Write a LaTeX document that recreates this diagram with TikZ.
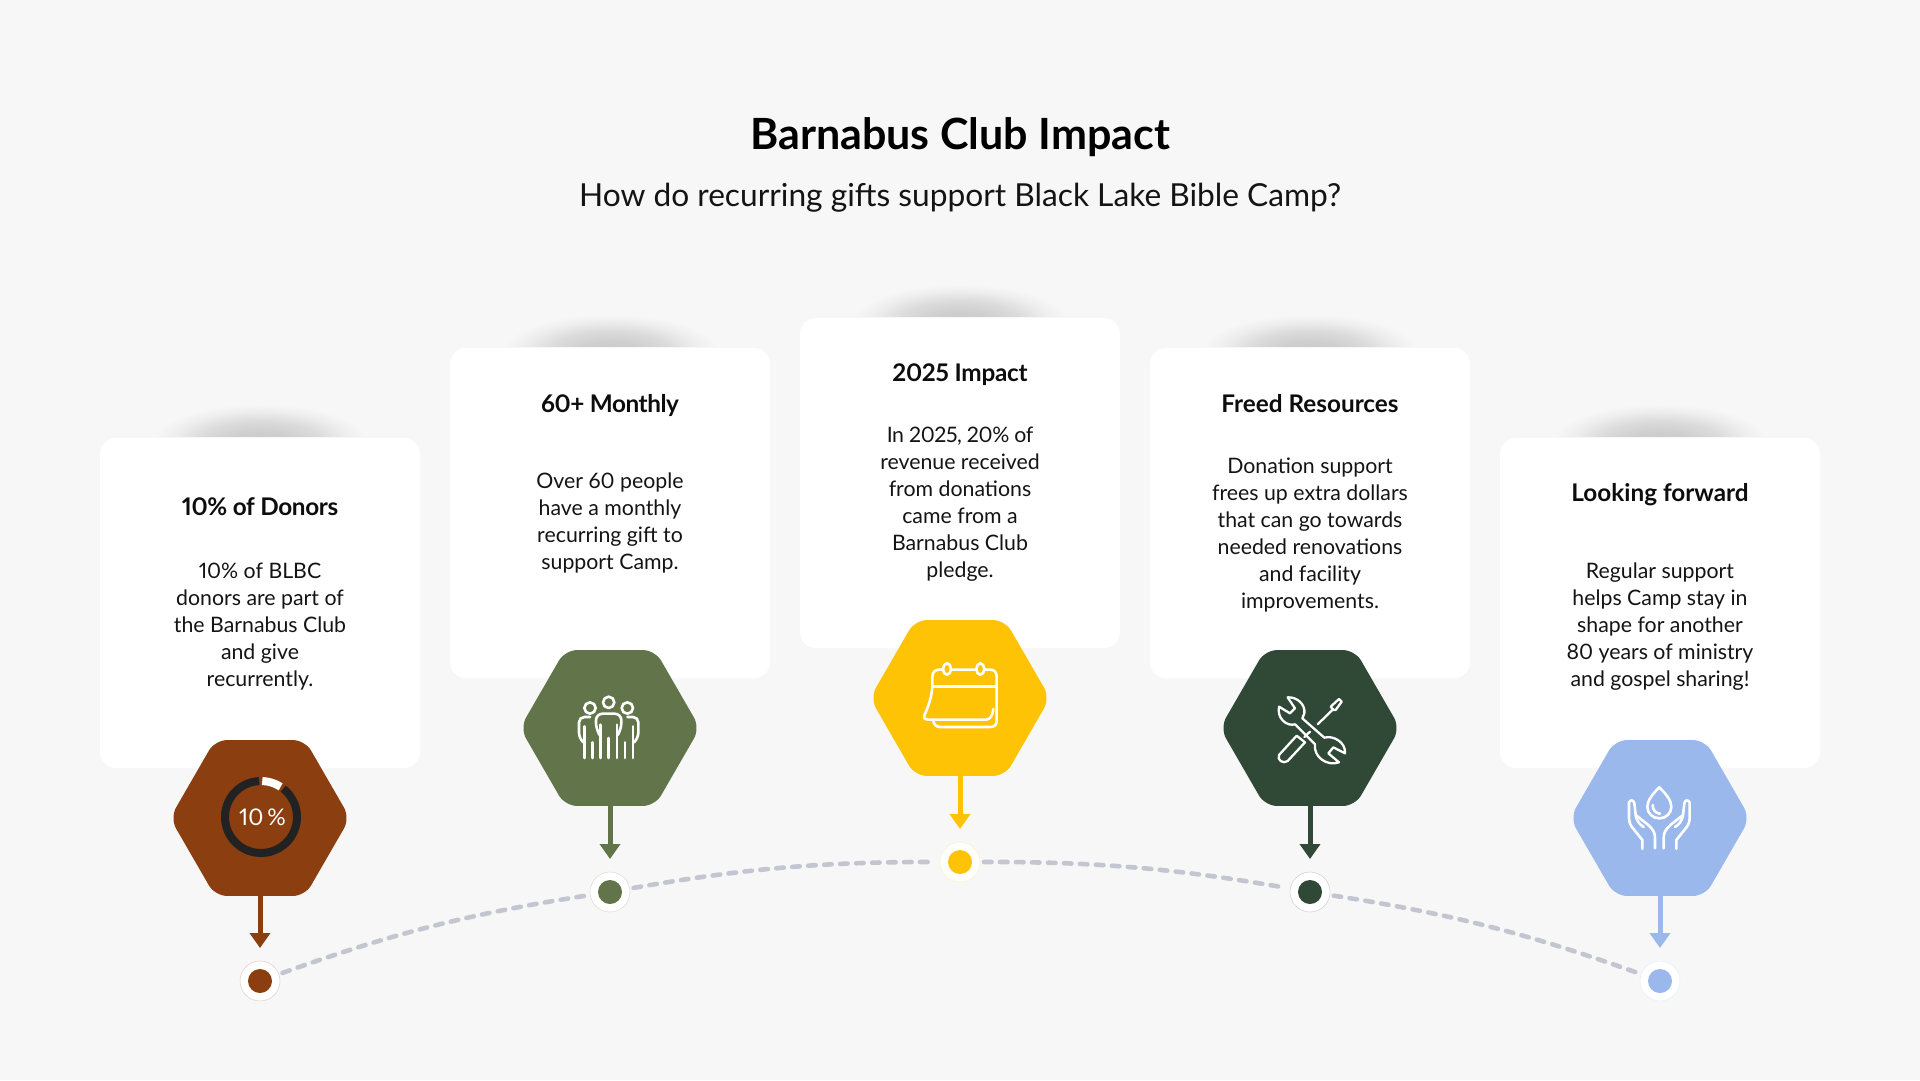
\documentclass[tikz,border=0pt]{standalone}
\usepackage{fontspec}
\setmainfont{Lato}[Numbers=Proportional]
\usetikzlibrary{arrows.meta,shapes.geometric}
\definecolor{pagebg}{HTML}{F7F7F7}
\definecolor{cbrown}{HTML}{8B3E0F}
\definecolor{cgreen}{HTML}{62754A}
\definecolor{cyellow}{HTML}{FEC304}
\definecolor{cdark}{HTML}{304836}
\definecolor{cblue}{HTML}{9AB8EC}
\definecolor{dashgray}{HTML}{C3C5D0}
\definecolor{ringdark}{HTML}{222222}
\pgfdeclareradialshading{cardglow}{\pgfpoint{0bp}{0bp}}{
 rgb(0bp)=(0.79,0.79,0.79);
 rgb(7bp)=(0.81,0.81,0.81);
 rgb(14bp)=(0.86,0.86,0.86);
 rgb(20bp)=(0.93,0.93,0.93);
 rgb(25bp)=(0.969,0.969,0.969);
 rgb(50bp)=(0.969,0.969,0.969)}
\tikzset{
 cardbox/.style={rectangle,fill=white,rounded corners=16pt,minimum width=320pt,minimum height=330pt,inner sep=0pt},
 hexbox/.style={regular polygon,regular polygon sides=6,shape border rotate=0,minimum size=180pt,inner sep=0pt,rounded corners=12pt,fill=#1},
 ringdot/.style={circle,fill=white,draw=#1!25,line width=0.5pt,minimum size=40pt,inner sep=0pt},
 coredot/.style={circle,fill=#1,minimum size=24pt,inner sep=0pt},
 droparrow/.style={draw=#1,fill=#1,line width=5pt,shorten >=33pt,-{Triangle[width=20pt,length=15pt]}},
 arcdash/.style={draw=dashgray,line width=4.6pt,line cap=round,dash pattern=on 7.5pt off 8.5pt,shorten >=24pt,shorten <=24pt},
 headtext/.style={font=\fontsize{24.3}{30}\selectfont\bfseries,text=black!95,align=center,inner sep=0pt,anchor=base},
 bodytext/.style={font=\fontsize{21.3}{27}\selectfont,text=black!92,align=center,inner sep=0pt},
 iconline/.style={draw=white,line width=2.6pt,line cap=round,line join=round},
 toolline/.style={draw=white,line width=2.3pt,line cap=round,line join=round},
 iconframe/.style={x=0.33333pt,y=-0.33333pt},
}
\begin{document}
\begin{tikzpicture}[x=1pt,y=-1pt]
\path[use as bounding box,fill=pagebg] (0,0) rectangle (1920,1080);
% glows
\foreach \cx/\ty in {260/438,610/348,960/318,1310/348,1660/438}{
  \begin{scope}
  \clip (\cx-150,\ty-60) rectangle (\cx+150,\ty-1.5);
  \shade[shading=cardglow] (\cx,\ty+4) ellipse [x radius=108,y radius=38];
  \end{scope}
}
% cards
\node[cardbox] (c1) at (260,603) {};
\node[cardbox] (c2) at (610,513) {};
\node[cardbox] (c3) at (960,483) {};
\node[cardbox] (c4) at (1310,513) {};
\node[cardbox] (c5) at (1660,603) {};
% title
\node[font=\fontsize{43}{50}\selectfont\bfseries,text=black,inner sep=0pt] (title) at (960,137) {Barnabus Club Impact};
\node[font=\fontsize{31.7}{38}\selectfont,text=black!92,inner sep=0pt] (subtitle) at (960,198) {How do recurring gifts support Black Lake Bible Camp?};
% headings
\node[headtext] (t1) at (260,515) {\addfontfeatures{LetterSpace=-1.5}10\% of Donors};
\node[headtext] (t2) at (610,412) {\addfontfeatures{LetterSpace=-1.8}60+ Monthly};
\node[headtext] (t3) at (960,381) {\addfontfeatures{LetterSpace=-1}2025 Impact};
\node[headtext] (t4) at (1310,412) {Freed Resources};
\node[headtext] (t5) at (1660,501) {Looking forward};
% bodies
\node[bodytext] (b1) at (260,626.5) {10\% of BLBC\\donors are part of\\the Barnabus Club\\and give\\recurrently.};
\node[bodytext] (b2) at (610,522.5) {Over 60 people\\have a monthly\\recurring gift to\\support Camp.};
\node[bodytext] (b3) at (960,504.5) {{\addfontfeatures{LetterSpace=-2}In 2025, 20\% of}\\revenue received\\from donations\\came from a\\Barnabus Club\\pledge.};
\node[bodytext] (b4) at (1310,535) {Donation support\\frees up extra dollars\\that can go towards\\needed renovations\\and facility\\improvements.};
\node[bodytext] (b5) at (1660,626.5) {Regular support\\helps Camp stay in\\shape for another\\80 years of ministry\\and gospel sharing!};
% dots
\node[ringdot=cbrown] (d1) at (260,981) {};
\node[ringdot=cgreen] (d2) at (610,892) {};
\node[ringdot=cyellow] (d3) at (960,862) {};
\node[ringdot=cdark] (d4) at (1310,892) {};
\node[ringdot=cblue] (d5) at (1660,981) {};
\node[coredot=cbrown] (e1) at (d1) {};
\node[coredot=cgreen] (e2) at (d2) {};
\node[coredot=cyellow] (e3) at (d3) {};
\node[coredot=cdark] (e4) at (d4) {};
\node[coredot=cblue] (e5) at (d5) {};
% dashed arc
\draw[arcdash] (d1.center) to[bend left=5.5] (d2.center);
\draw[arcdash] (d2.center) to[bend left=5] (d3.center);
\draw[arcdash] (d3.center) to[bend left=5] (d4.center);
\draw[arcdash] (d4.center) to[bend left=5.5] (d5.center);
% hexagons
\node[hexbox=cbrown] (h1) at (260,818) {};
\node[hexbox=cgreen] (h2) at (610,728) {};
\node[hexbox=cyellow] (h3) at (960,698) {};
\node[hexbox=cdark] (h4) at (1310,728) {};
\node[hexbox=cblue] (h5) at (1660,818) {};
% arrows
\draw[droparrow=cbrown] (h1.center) ++(0,75) -- (d1.center);
\draw[droparrow=cgreen] (h2.center) ++(0,75) -- (d2.center);
\draw[droparrow=cyellow] (h3.center) ++(0,75) -- (d3.center);
\draw[droparrow=cdark] (h4.center) ++(0,75) -- (d4.center);
\draw[droparrow=cblue] (h5.center) ++(0,75) -- (d5.center);
% icon 1: ring
\draw[ringdark,line width=8pt] ([shift={(93:36pt)}]261,817) arc [start angle=93,end angle=412,radius=36pt];
\draw[white,line width=8pt] ([shift={(88:36pt)}]261,817) arc [start angle=88,end angle=57,radius=36pt];
\node[font=\fontsize{23}{28}\selectfont,text=white,inner sep=0pt] (pct) at (262.5,817) {10\,\%};
% icon 2: people
\begin{scope}[xshift=565pt,yshift=-683pt,iconframe]
\draw[iconline] (131,58) circle [radius=17];
\draw[iconline] (75,75) circle [radius=17];
\draw[iconline] (187,75) circle [radius=17];
\draw[iconline,rounded corners=6.6pt] (100,150) -- (93,140) -- (93,92) -- (169,92) -- (169,140) -- (162,150);
\draw[iconline] (106,125) -- (106,225);
\draw[iconline] (156,125) -- (156,225);
\draw[iconline] (131,165) -- (131,225);
\draw[iconline,rounded corners=5.3pt] (75,102) -- (42,102) -- (42,165) -- (55,178);
\draw[iconline] (58,130) -- (58,225);
\draw[iconline] (82,178) -- (82,225);
\draw[iconline,rounded corners=5.3pt] (187,102) -- (220,102) -- (220,165) -- (207,178);
\draw[iconline] (204,130) -- (204,225);
\draw[iconline] (180,178) -- (180,225);
\end{scope}
% icon 3: calendar
\begin{scope}[xshift=915pt,yshift=-653pt,iconframe]
\draw[iconline] (52,100) -- (52,72) .. controls (52,58) and (60,50) .. (72,50) -- (226,50) .. controls (238,50) and (245,58) .. (245,72) -- (245,180);
\draw[iconline] (52,100) -- (245,100);
\draw[iconline] (52,100) .. controls (50,135) and (38,165) .. (28,187) .. controls (26,196) and (30,200) .. (38,200) -- (212,200) .. controls (225,200) and (232,190) .. (235,168);
\draw[iconline] (55,205) .. controls (58,216) and (65,222) .. (76,222) -- (226,222) .. controls (238,222) and (245,215) .. (245,205) -- (245,175);
\draw[iconline,fill=cyellow] (96,48) ellipse [x radius=12,y radius=17];
\draw[iconline,fill=cyellow] (196,48) ellipse [x radius=12,y radius=17];
\end{scope}
% icon 4: tools
\begin{scope}[xshift=1265pt,yshift=-685pt,iconframe]
\draw[toolline] (68,37) .. controls (95,35) and (122,58) .. (118,85) .. controls (117,92) and (115,95) .. (112,100) -- (178,158) .. controls (205,150) and (243,172) .. (240,205) -- (205,187) -- (190,205) -- (222,232) .. controls (185,245) and (145,215) .. (150,178) -- (90,118) .. controls (65,125) and (35,100) .. (42,65) -- (75,85) -- (90,70) -- cycle;
\draw[toolline] (197,65) -- (222,42) -- (230,50) -- (212,75) -- (205,75) -- cycle;
\draw[toolline] (205,72) -- (158,118);
\draw[toolline] (135,140) -- (118,156);
\draw[toolline] (95,152) -- (120,172) -- (68,228) .. controls (55,238) and (35,225) .. (42,210) -- cycle;
\end{scope}
% icon 5: hands
\begin{scope}[xshift=1615pt,yshift=-775pt,iconframe]
\draw[iconline] (133,37) .. controls (115,55) and (97,75) .. (97,95) .. controls (97,115) and (113,130) .. (133,130) .. controls (153,130) and (169,115) .. (169,95) .. controls (169,75) and (151,55) .. (133,37) -- cycle;
\draw[iconline] (113,90) .. controls (113,105) and (122,115) .. (135,116);
\draw[iconline] (82,222) -- (82,195) -- (50,155) .. controls (44,145) and (42,138) .. (42,130) -- (42,82) .. controls (48,72) and (56,76) .. (58,85) -- (62,120) -- (100,150) .. controls (115,165) and (120,172) .. (120,190) -- (120,220);
\draw[iconline] (62,122) .. controls (65,135) and (72,148) .. (86,156);
\draw[iconline] (184,222) -- (184,195) -- (216,155) .. controls (222,145) and (224,138) .. (224,130) -- (224,82) .. controls (218,72) and (210,76) .. (208,85) -- (204,120) -- (166,150) .. controls (151,165) and (146,172) .. (146,190) -- (146,220);
\draw[iconline] (204,122) .. controls (201,135) and (194,148) .. (180,156);
\end{scope}
\end{tikzpicture}
\end{document}
